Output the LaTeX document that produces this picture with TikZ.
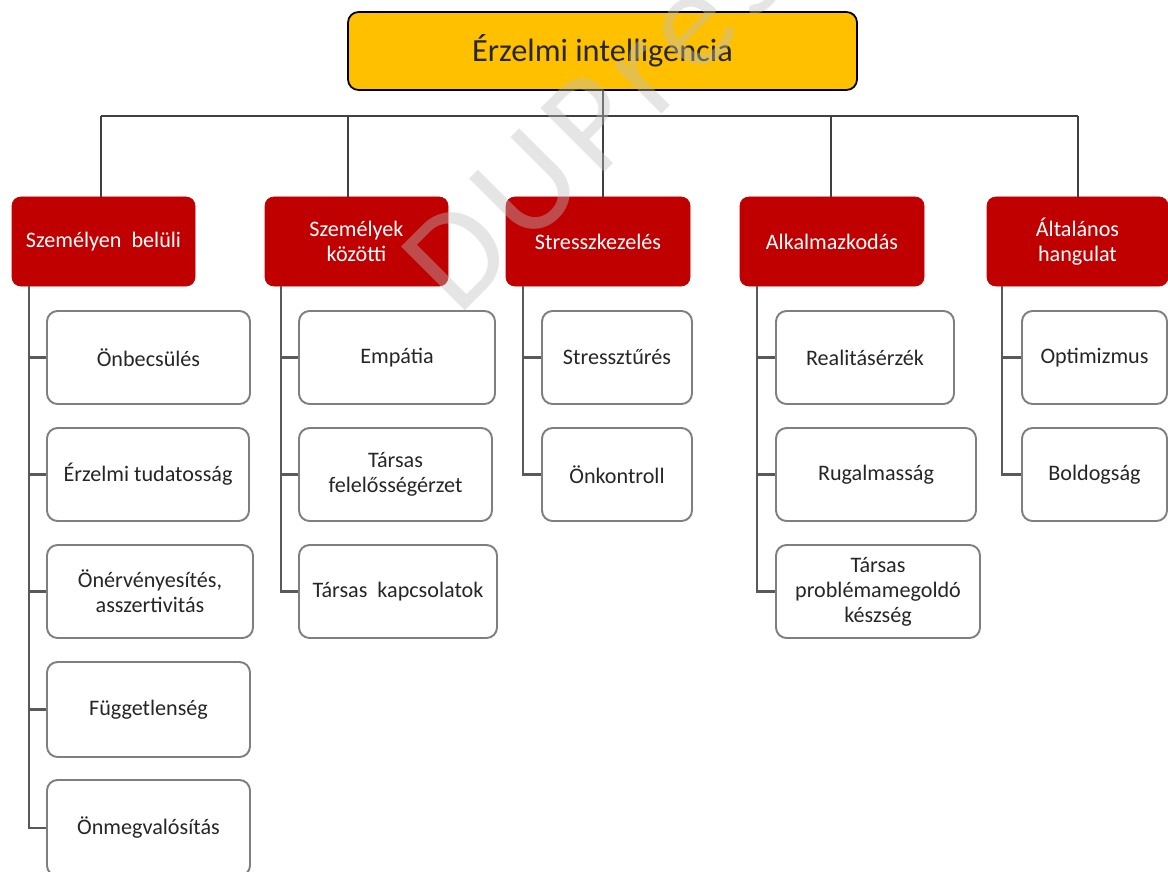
\documentclass[tikz,border=0pt]{standalone}
\usepackage{fontspec}
\setmainfont{Carlito}
\newfontfamily\wmfont[LetterSpace=7]{Carlito}
\usetikzlibrary{calc}

\definecolor{topfill}{HTML}{FFC000}
\definecolor{catfill}{HTML}{C00000}
\definecolor{kidline}{HTML}{7F7F7F}
\definecolor{linkgray}{HTML}{595959}
\definecolor{busgray}{HTML}{404040}
\definecolor{txtdark}{HTML}{262626}
\definecolor{wmgray}{HTML}{BFBFBF}

% box given by its corners (x1,y1)-(x2,y2) in pixel units
\newcommand\boxat[7]{%
  \node[#1, minimum width={(#5-#3)*0.02cm}, minimum height={(#6-#4)*0.02cm}]
    (#2) at ({(#3+#5)/2},{(#4+#6)/2}) {#7};}

\tikzset{
  rootbox/.style={draw=black, line width=1pt, fill=topfill, rounded corners=6pt,
    text=txtdark, font=\fontsize{18.4}{20}\selectfont, inner sep=0pt},
  catbox/.style={draw=catfill, fill=catfill, rounded corners=5pt, text=white,
    align=center, font=\fontsize{12.6}{14.2}\selectfont, inner sep=0pt},
  kidbox/.style={draw=kidline, line width=1.1pt, fill=white, rounded corners=6pt,
    text=txtdark, align=center, font=\fontsize{12.6}{14.2}\selectfont, inner sep=0pt},
  bus/.style={draw=busgray, line width=0.8pt},
  spine/.style={draw=linkgray, line width=1.2pt},
}

\begin{document}
\begin{tikzpicture}[x=0.02cm, y=-0.02cm]
\useasboundingbox (0,0) rectangle (1168,871);
\clip (0,0) rectangle (1168,871);

% root
\boxat{rootbox}{top}{348}{12}{857}{90}{Érzelmi intelligencia}

% categories
\boxat{catbox}{c1}{12}{197}{195}{286}{Személyen\ \ belüli}
\boxat{catbox}{c2}{265}{197}{448}{286}{Személyek\\közötti}
\boxat{catbox}{c3}{506}{197}{690}{286}{Stresszkezelés}
\boxat{catbox}{c4}{740}{197}{924}{286}{Alkalmazkodás}
\boxat{catbox}{c5}{987}{197}{1168}{286}{Általános\\hangulat}

% column 1
\boxat{kidbox}{k11}{47}{311}{250}{404}{Önbecsülés}
\boxat{kidbox}{k12}{47}{428}{249}{521}{Érzelmi tudatosság}
\boxat{kidbox}{k13}{47}{545}{253}{638}{Önérvényesítés,\\asszertivitás}
\boxat{kidbox}{k14}{47}{662}{250}{757}{Függetlenség}
\boxat{kidbox}{k15}{47}{780}{250}{876}{Önmegvalósítás}

% column 2
\boxat{kidbox}{k21}{299}{311}{495}{404}{Empátia}
\boxat{kidbox}{k22}{299}{428}{492}{521}{Társas\\felelősségérzet}
\boxat{kidbox}{k23}{299}{545}{497}{638}{Társas\ \ kapcsolatok}

% column 3
\boxat{kidbox}{k31}{542}{311}{692}{404}{Stressztűrés}
\boxat{kidbox}{k32}{542}{428}{692}{521}{Önkontroll}

% column 4
\boxat{kidbox}{k41}{776}{311}{954}{404}{Realitásérzék}
\boxat{kidbox}{k42}{776}{428}{976}{521}{Rugalmasság}
\boxat{kidbox}{k43}{776}{545}{980}{638}{Társas\\problémamegoldó\\készség}

% column 5
\boxat{kidbox}{k51}{1022}{311}{1167}{404}{Optimizmus}
\boxat{kidbox}{k52}{1022}{428}{1167}{521}{Boldogság}

% bus between root and categories
\coordinate (j1) at (101,116);
\coordinate (j2) at (348,116);
\coordinate (j3) at (603,116);
\coordinate (j4) at (831,116);
\coordinate (j5) at (1078,116);
\draw[bus] (j1) -- (j5);
\draw[bus] (j3 |- top.south) -- (j3 |- c3.north);
\draw[bus] (j1) -- (j1 |- c1.north);
\draw[bus] (j2) -- (j2 |- c2.north);
\draw[bus] (j4) -- (j4 |- c4.north);
\draw[bus] (j5) -- (j5 |- c5.north);

% spines from categories to their items
\coordinate (s1) at (29,0);
\coordinate (s2) at (281,0);
\coordinate (s3) at (523,0);
\coordinate (s4) at (757,0);
\coordinate (s5) at (1002,0);
\foreach \k in {k11,k12,k13,k14,k15} \draw[spine] (s1 |- c1.south) |- (\k.west);
\foreach \k in {k21,k22,k23} \draw[spine] (s2 |- c2.south) |- (\k.west);
\foreach \k in {k31,k32} \draw[spine] (s3 |- c3.south) |- (\k.west);
\foreach \k in {k41,k42,k43} \draw[spine] (s4 |- c4.south) |- (\k.west);
\foreach \k in {k51,k52} \draw[spine] (s5 |- c5.south) |- (\k.west);

% publisher watermark
\node[rotate=45, anchor=base west, inner sep=0pt, text=wmgray, text opacity=0.4,
  font=\wmfont\fontsize{80}{80}\selectfont] (wm) at (458,318) {DUPres};
\end{tikzpicture}
\end{document}
